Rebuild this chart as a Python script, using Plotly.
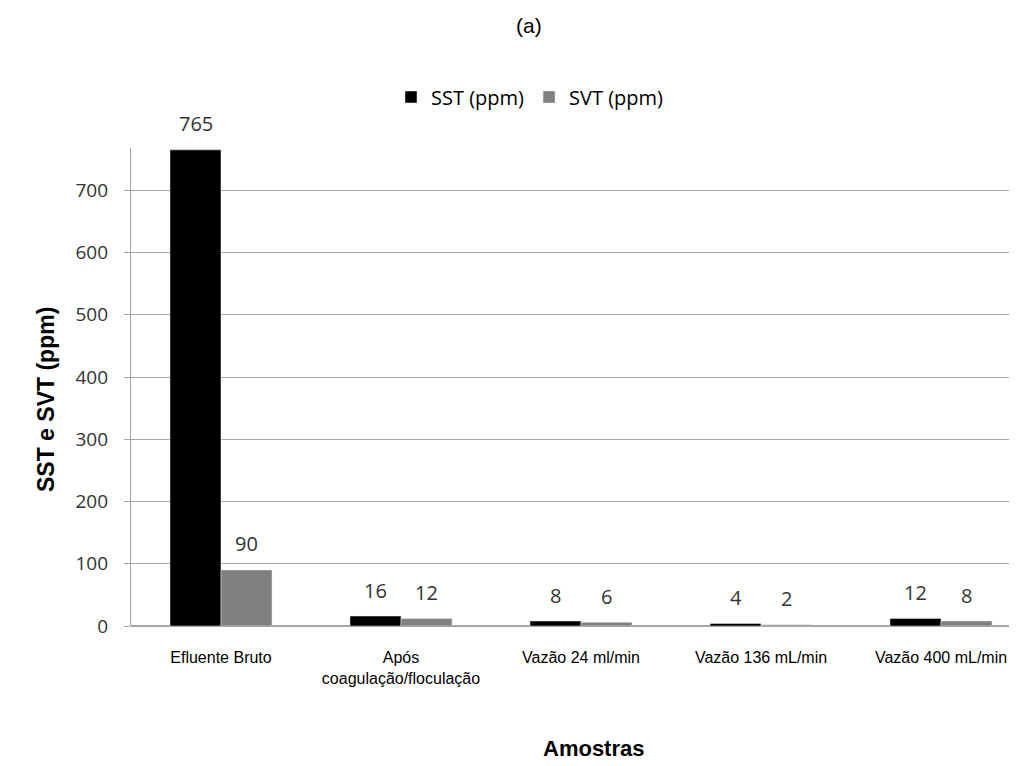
import plotly.graph_objects as go

categories = ["Efluente Bruto", "Após<br>coagulação/floculação", "Vazão 24 ml/min",
              "Vazão 136 mL/min", "Vazão 400 mL/min"]
sst = [765, 16, 8, 4, 12]
svt = [90, 12, 6, 2, 8]
y_ticks = [0, 100, 200, 300, 400, 500, 600, 700]

label_font = dict(size=20, color="#333333", family="Open Sans, Calibri, sans-serif")

fig = go.Figure()
fig.add_trace(go.Bar(x=categories, y=sst, name="SST (ppm)", marker_color="#000000",
                     offsetgroup="sst"))
fig.add_trace(go.Bar(x=categories, y=svt, name="SVT (ppm)", marker_color="#808080",
                     offsetgroup="svt"))

# page is shown with an 8px body offset, so margins are shifted by 8px
W, H = 900, 478
def px(x):
    return (x - 129) / W
def py(y):
    return (626 - y) / H

bar_px = 51
for vals, shift in ((sst, -bar_px / 2), (svt, bar_px / 2)):
    for cat, v in zip(categories, vals):
        fig.add_annotation(x=cat, y=v, xref="x", yref="y", text=str(v), showarrow=False,
                           xshift=shift, yshift=26, xanchor="center", yanchor="middle",
                           font=label_font)

fig.update_layout(
    width=1030, height=766,
    margin=dict(l=123, r=7, t=140, b=148, autoexpand=False),
    paper_bgcolor="white", plot_bgcolor="white",
    barmode="group", bargap=0.433, bargroupgap=0,
    font=dict(family="Liberation Sans, Arial, sans-serif", color="#333333"),
    legend=dict(orientation="h", x=px(528), xanchor="center", y=py(97), yanchor="middle",
                font=dict(size=20, color="#000000", family="Open Sans, sans-serif"),
                traceorder="normal"),
    xaxis=dict(showgrid=False, showline=False, ticks="",
               tickfont=dict(size=16, color="#000000", family="Liberation Sans, Arial"),
               ticklabelstandoff=20),
    yaxis=dict(range=[0, 768], tickvals=y_ticks, showgrid=True, gridcolor="#a6a6a6",
               gridwidth=1.3, showline=True, linecolor="#a6a6a6", linewidth=1.3,
               ticks="outside", ticklen=6, tickcolor="#a6a6a6", ticklabelstandoff=12,
               tickfont=dict(size=19, color="#333333", family="Open Sans, Calibri, sans-serif"),
               zeroline=True, zerolinecolor="#a6a6a6", zerolinewidth=1.5),
)
fig.add_annotation(text="(a)", x=px(527), y=py(25), xref="paper", yref="paper", showarrow=False,
                   xanchor="center", yanchor="middle",
                   font=dict(size=21, color="#000000", family="Liberation Sans, Arial"))
fig.add_annotation(text="<b>Amostras</b>", x=px(591), y=py(748), xref="paper", yref="paper",
                   xanchor="center", yanchor="middle",
                   showarrow=False, font=dict(size=22, color="#000000", family="Liberation Sans, Arial"))
fig.add_annotation(text="<b>SST e SVT (ppm)</b>", x=px(44), y=py(400), xref="paper", yref="paper",
                   xanchor="center", yanchor="middle",
                   showarrow=False, textangle=-90,
                   font=dict(size=23, color="#000000", family="Liberation Sans, Arial"))

fig.write_html("out.html")
